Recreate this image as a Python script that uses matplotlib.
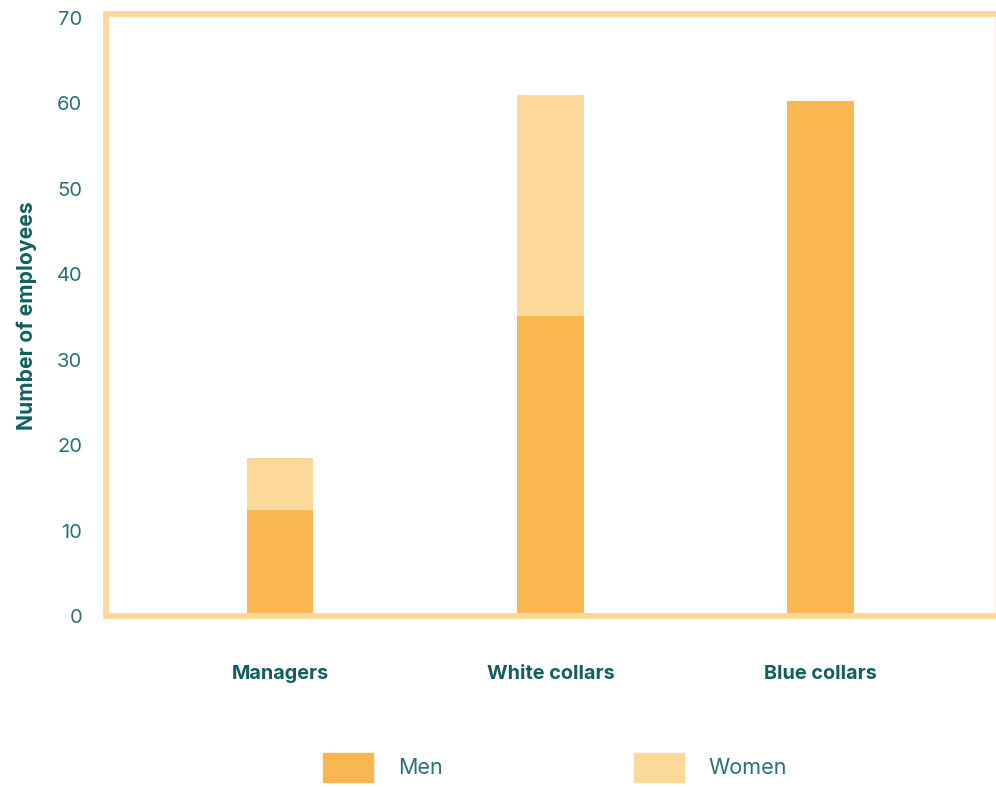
import matplotlib.pyplot as plt
from matplotlib.patches import Patch

# Headcount by job category, split by gender
categories = ['Managers', 'White collars', 'Blue collars']
men = [12.4, 35.1, 60.3]
women = [6.1, 25.9, 0.0]

men_color = '#F9B651'
women_color = '#FCD89B'
frame_color = '#FDD79A'
tick_color = '#2A7273'
label_color = '#11605F'

plt.rcParams['font.family'] = ['Inter', 'DejaVu Sans']

fig = plt.figure(figsize=(9.96, 7.87), dpi=100)
ax = fig.add_axes([106 / 996, 1 - 616 / 787, 1 - 106 / 996 - 0.001, (616 - 14) / 787])

x = range(len(categories))
ax.bar(x, men, width=0.247, color=men_color, label='Men')
ax.bar(x, women, width=0.247, bottom=men, color=women_color, label='Women')

ax.set_xlim(-0.643, 2.644)
ax.set_ylim(0, 70.47)
ax.set_yticks(range(0, 71, 10))
ax.set_xticks(list(x))
ax.set_xticklabels(categories, fontsize=14.3, fontweight='bold', color=label_color)
ax.tick_params(axis='y', length=0, pad=17, labelsize=14.5, labelcolor=tick_color)
ax.tick_params(axis='x', length=0, pad=35)

for side in ['left', 'top', 'bottom']:
    ax.spines[side].set_color(frame_color)
    ax.spines[side].set_linewidth(4.2)
ax.spines['right'].set_color('#FBEFD8')
ax.spines['right'].set_linewidth(0.8)

fig.text(27 / 996, 1 - 316 / 787, 'Number of employees', rotation=90,
         ha='center', va='center', fontsize=15.2, fontweight='bold', color=label_color)

handles = [Patch(color=men_color, label='Men'), Patch(color=women_color, label='Women')]
leg = fig.legend(handles=handles, ncol=2, frameon=False, loc='upper left',
                 bbox_to_anchor=(323 / 996, 1 - 753 / 787), borderpad=0, borderaxespad=0,
                 fontsize=15.5, handlelength=2.33, handleheight=1.68, handletextpad=1.15,
                 columnspacing=8.87)
for t in leg.get_texts():
    t.set_color(tick_color)

fig.savefig('out.png', dpi=100)
